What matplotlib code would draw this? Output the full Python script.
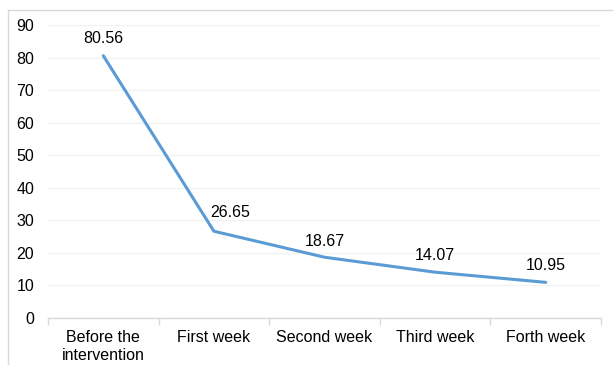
import matplotlib.pyplot as plt
from matplotlib.patches import Rectangle

categories = ["Before the\nintervention", "First week", "Second week", "Third week", "Forth week"]
values = [80.56, 26.65, 18.67, 14.07, 10.95]
value_labels = ["80.56", "26.65", "18.67", "14.07", "10.95"]
yticks = [0, 10, 20, 30, 40, 50, 60, 70, 80, 90]

plt.rcParams['font.family'] = ['Liberation Sans', 'DejaVu Sans']

W, H = 613, 365
fig = plt.figure(figsize=(W / 100, H / 100), dpi=100)

# outer chart frame
fig.patches.append(Rectangle((8 / W, -0.05), 1.0, 1 - 10 / H + 0.05,
                             transform=fig.transFigure, fill=False,
                             edgecolor='#d9d9d9', linewidth=1.0))

left, right = 48, 601
top, bottom = 25, 318
ax = fig.add_axes([left / W, 1 - bottom / H, (right - left) / W, (bottom - top) / H])

x = list(range(len(categories)))
ax.plot(x, values, color='#5b9bd5', linewidth=2.2, solid_capstyle='round')

FS = 11.5
ax.set_xlim(-0.5, len(categories) - 0.5)
ax.set_ylim(0, 90)
ax.set_yticks(yticks)
ax.set_yticklabels([str(t) for t in yticks], fontsize=FS, color='#000000')
ax.set_xticks(x)
ax.set_xticklabels(categories, fontsize=FS, color='#000000', linespacing=1.25)
ax.set_xticks([i - 0.5 for i in range(len(categories) + 1)], minor=True)

ax.tick_params(axis='y', length=0, pad=10)
ax.tick_params(axis='x', which='major', length=0, pad=8.5)
ax.tick_params(axis='x', which='minor', length=5, color='#d9d9d9', width=1)

ax.grid(axis='y', color='#f2f2f2', linewidth=1)
ax.set_axisbelow(True)
for s in ['left', 'right', 'top']:
    ax.spines[s].set_visible(False)
ax.spines['bottom'].set_color('#d9d9d9')
ax.spines['bottom'].set_linewidth(1)

# label offsets in pixels (dx right, dy up)
offsets = [(0, 17), (16, 19), (0, 16), (0, 17), (0, 17)]
for i, (v, lab) in enumerate(zip(values, value_labels)):
    dx, dy = offsets[i]
    ax.annotate(lab, (i, v), xytext=(dx * 0.72, dy * 0.72), textcoords='offset points',
                ha='center', va='center', fontsize=FS, color='#000000')

fig.savefig('out.png', dpi=100)
